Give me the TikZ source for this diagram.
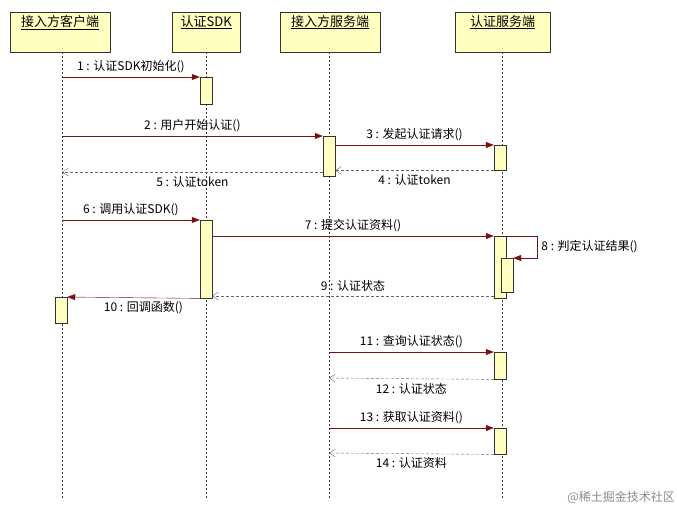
\documentclass[tikz,border=0pt]{standalone}
\usepackage{fontspec}
\setmainfont{Noto Sans CJK SC}
\usetikzlibrary{arrows.meta}
\definecolor{fillY}{HTML}{FFFFC0}
\definecolor{msg}{HTML}{7A1010}
\tikzset{
 head/.style={draw=black!80,fill=fillY,minimum height=40pt,anchor=north west,inner sep=0pt},
 htext/.style={font=\fontsize{13}{15}\selectfont,anchor=north,inner sep=3pt},
 life/.style={draw=black!80,dash pattern=on 2pt off 2pt},
 act/.style={draw=black!80,fill=fillY,minimum width=12pt,anchor=north,inner sep=0pt},
 call/.style={draw=msg,-{Triangle[length=8pt,width=6pt]}},
 ret/.style={draw=black!60,dash pattern=on 3pt off 2pt,-{Straight Barb[length=6pt,width=8pt]}},
 lab/.style={font=\fontsize{12}{14}\selectfont,inner sep=0pt}
}
\begin{document}
\begin{tikzpicture}[x=1pt,y=-1pt]
\useasboundingbox[fill=white] (0,0) rectangle (677,511);
% heads
\node[head,minimum width=100pt] (h1) at (10,12) {};
\node[head,minimum width=68pt] (h2) at (172,12) {};
\node[head,minimum width=100pt] (h3) at (280,12) {};
\node[head,minimum width=95pt] (h4) at (455,12) {};
\node[htext] at (h1.north) {\underline{接入方客户端}};
\node[htext] at (h2.north) {\underline{认证SDK}};
\node[htext] at (h3.north) {\underline{接入方服务端}};
\node[htext] at (h4.north) {\underline{认证服务端}};
\coordinate (e1) at (62,500); \coordinate (e2) at (206,500);
\coordinate (e3) at (329,500); \coordinate (e4) at (502,500);
\draw[life] (h1.south -| 62,0) -- (e1);
\draw[life] (h2.south -| 206,0) -- (e2);
\draw[life] (h3.south -| 329,0) -- (e3);
\draw[life] (h4.south -| 502,0) -- (e4);
% activations
\node[act,minimum height=27pt] (a1) at (206,77) {};
\node[act,minimum height=40pt] (a2) at (329,136) {};
\node[act,minimum height=25pt] (a3) at (500,145) {};
\node[act,minimum height=78pt] (a4) at (206,220) {};
\node[act,minimum height=62pt] (a5) at (500,236) {};
\node[act,minimum height=34pt] (a6) at (507,258) {};
\node[act,minimum height=26pt] (a7) at (61,297) {};
\node[act,minimum height=27pt] (a8) at (500,352) {};
\node[act,minimum height=26pt] (a9) at (500,428) {};
% sources on lifelines
\coordinate (s1) at (62,77); \coordinate (s2) at (62,136);
\coordinate (s6) at (62,220); \coordinate (s11) at (329,352);
\coordinate (s13) at (329,428); \coordinate (t5) at (62,172);
\coordinate (t12) at (329,378); \coordinate (t14) at (329,453);
\draw[call] (s1) -- (a1.north west) node[lab,midway,above=4pt] {1 : 认证SDK初始化()};
\draw[call] (s2) -- (a2.north west) node[lab,midway,above=4pt] {2 : 用户开始认证()};
\draw[call] (a2.east |- a3.north) -- (a3.north west) node[lab,midway,above=4pt] {3 : 发起认证请求()};
\draw[ret] (a3.south west) -- (a2.east |- a3.south) node[lab,midway,below=4pt] {4 : 认证token};
\draw[ret] (a2.west |- t5) -- (t5) node[lab,midway,below=4pt] {5 : 认证token};
\draw[call] (s6) -- (a4.north west) node[lab,midway,above=4pt] {6 : 调用认证SDK()};
\draw[call] (a4.north east |- a5.north) -- (a5.north west) node[lab,midway,above=4pt] {7 : 提交认证资料()};
\draw[call] (a5.north east) -- ++(31,0) |- (a6.north east) node[lab,pos=0.25,right=4pt,anchor=west] {8 : 判定认证结果()};
\draw[ret] (a5.west |- 0,296) -- (a4.east |- 0,296) node[lab,midway,above=4pt] {9 : 认证状态};
\draw[call] (a4.south west) -- (a7.north east) node[lab,midway,below=4pt,xshift=10pt] {10 : 回调函数()};
\draw[call] (s11) -- (a8.north west) node[lab,midway,above=4pt] {11 : 查询认证状态()};
\draw[ret] (a8.south west) -- (t12) node[lab,midway,below=4pt] {12 : 认证状态};
\draw[call] (s13) -- (a9.north west) node[lab,midway,above=4pt] {13 : 获取认证资料()};
\draw[ret] (a9.south west) -- (t14) node[lab,midway,below=4pt] {14 : 认证资料};
\node[lab,text=black!45,anchor=east] at (675,497) {@稀土掘金技术社区};
\end{tikzpicture}
\end{document}
